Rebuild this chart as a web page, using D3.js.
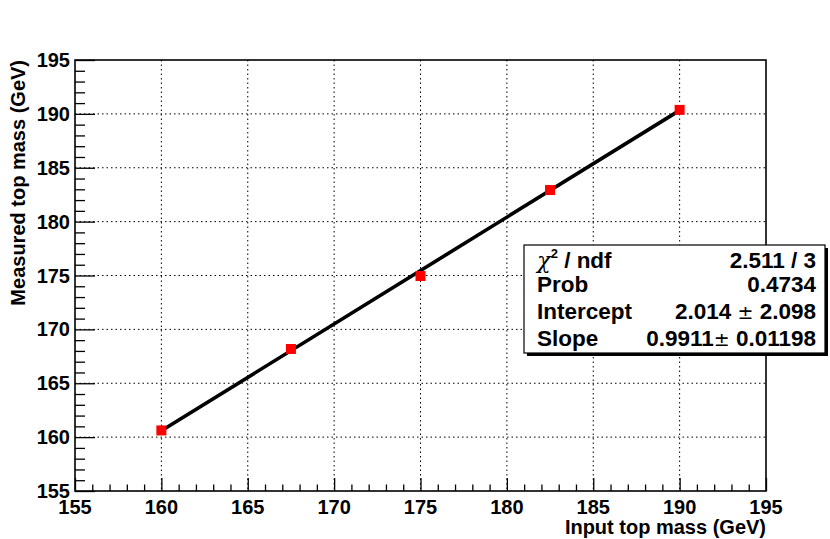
<!DOCTYPE html>
<html>
<head>
<meta charset="utf-8">
<script src="https://cdn.jsdelivr.net/npm/d3@7"></script>
<style>
  html, body { margin: 0; padding: 0; background: #fff; }
  svg { display: block; }
  text { font-family: "Liberation Sans", Arial, Helvetica, sans-serif; font-weight: bold; fill: #000; }
</style>
</head>
<body>
<svg id="chart" width="830" height="539"></svg>
<script>
// Input vs measured top mass points (GeV)
const inputMass = [160, 167.5, 175, 182.5, 190];
const measuredMass = [160.62, 168.18, 174.95, 182.93, 190.37];

// Linear fit result
const fitIntercept = 2.014;
const fitSlope = 0.9911;
const fitRange = [160, 190];

// Axis ticks
const xTicks = [155, 160, 165, 170, 175, 180, 185, 190, 195];
const yTicks = [155, 160, 165, 170, 175, 180, 185, 190, 195];

// Fit statistics box rows
const statLabels = ["Prob", "Intercept", "Slope"];
const statValues = [["0.4734"], ["2.014", "2.098"], ["0.9911", "0.01198"]];
const chi2Value = "2.511 / 3";

const svg = d3.select("#chart");
const frame = { left: 75, right: 766, top: 60, bottom: 491 };

const x = d3.scaleLinear().domain([155, 195]).range([frame.left, frame.right]);
const y = d3.scaleLinear().domain([155, 195]).range([frame.bottom, frame.top]);

// Dotted grid at major ticks
const grid = svg.append("g");
grid.selectAll("line.gx").data(xTicks.slice(1, -1)).join("line")
  .attr("x1", d => x(d)).attr("x2", d => x(d))
  .attr("y1", frame.top).attr("y2", frame.bottom)
  .attr("stroke", "#000").attr("stroke-width", 1).attr("stroke-dasharray", "1.5,3");
grid.selectAll("line.gy").data(yTicks.slice(1, -1)).join("line")
  .attr("y1", d => y(d)).attr("y2", d => y(d))
  .attr("x1", frame.left).attr("x2", frame.right)
  .attr("stroke", "#000").attr("stroke-width", 1).attr("stroke-dasharray", "1.5,3");

// Inward-pointing ticks (ROOT style): bottom axis
const xAxis = d3.axisBottom(x).tickValues(d3.range(155, 196, 1))
  .tickSize(0).tickFormat("");
const gx = svg.append("g").attr("transform", `translate(0,${frame.bottom})`).call(xAxis);
gx.select(".domain").remove();
gx.selectAll(".tick line")
  .attr("y2", d => d % 5 === 0 ? -13 : -6.5)
  .attr("stroke", "#000").attr("stroke-width", 1.3);

const yAxis = d3.axisLeft(y).tickValues(d3.range(155, 196, 1))
  .tickSize(0).tickFormat("");
const gy = svg.append("g").attr("transform", `translate(${frame.left},0)`).call(yAxis);
gy.select(".domain").remove();
gy.selectAll(".tick line")
  .attr("x2", d => d % 5 === 0 ? 20 : 10)
  .attr("stroke", "#000").attr("stroke-width", 1.3);

// Tick labels
svg.append("g").selectAll("text").data(xTicks).join("text")
  .attr("x", d => x(d)).attr("y", frame.bottom + 23)
  .attr("text-anchor", "middle").attr("font-size", 20)
  .text(d => d);
svg.append("g").selectAll("text").data(yTicks).join("text")
  .attr("x", frame.left - 5).attr("y", d => y(d) + 7)
  .attr("text-anchor", "end").attr("font-size", 20)
  .text(d => d);

// Axis titles
svg.append("text")
  .attr("x", frame.right).attr("y", 534)
  .attr("text-anchor", "end").attr("font-size", 20)
  .text("Input top mass (GeV)");
svg.append("text")
  .attr("transform", `translate(25,${frame.top}) rotate(-90)`)
  .attr("text-anchor", "end").attr("font-size", 20)
  .text("Measured top mass (GeV)");

// Fit line
svg.append("line")
  .attr("x1", x(fitRange[0])).attr("y1", y(fitIntercept + fitSlope * fitRange[0]))
  .attr("x2", x(fitRange[1])).attr("y2", y(fitIntercept + fitSlope * fitRange[1]))
  .attr("stroke", "#000").attr("stroke-width", 3.6);

// Data markers
const ms = 10;
svg.append("g").selectAll("rect").data(inputMass).join("rect")
  .attr("x", d => x(d) - ms / 2)
  .attr("y", (d, i) => y(measuredMass[i]) - ms / 2)
  .attr("width", ms).attr("height", ms)
  .attr("fill", "#ff0000");

// Frame
svg.append("rect")
  .attr("x", frame.left).attr("y", frame.top)
  .attr("width", frame.right - frame.left).attr("height", frame.bottom - frame.top)
  .attr("fill", "none").attr("stroke", "#000").attr("stroke-width", 1.6);

// Statistics box with drop shadow
const box = { x: 524, y: 245, w: 301, h: 108 };
svg.append("rect")
  .attr("x", box.x + 3).attr("y", box.y + 3).attr("width", box.w).attr("height", box.h)
  .attr("fill", "#000");
svg.append("rect")
  .attr("x", box.x).attr("y", box.y).attr("width", box.w).attr("height", box.h)
  .attr("fill", "#fff").attr("stroke", "#000").attr("stroke-width", 1.2);

const textL = 537, textR = 816;
const rowY = [268, 292, 319, 346];
const fs = 22.5;

const chiLabel = svg.append("text").attr("x", textL).attr("y", rowY[0]).attr("font-size", fs);
chiLabel.append("tspan").attr("font-family", "DejaVu Serif, serif").attr("font-style", "italic")
  .attr("font-weight", "normal").text("χ");
chiLabel.append("tspan").attr("dy", -10).attr("font-size", 13).text("2");
chiLabel.append("tspan").attr("dy", 10).text(" / ndf");
svg.append("text").attr("x", textR).attr("y", rowY[0]).attr("text-anchor", "end")
  .attr("font-size", fs).text(chi2Value);

statLabels.forEach((lab, i) => {
  svg.append("text").attr("x", textL).attr("y", rowY[i + 1]).attr("font-size", fs).text(lab);
  const v = statValues[i];
  const t = svg.append("text").attr("x", textR).attr("y", rowY[i + 1])
    .attr("text-anchor", "end").attr("font-size", fs);
  if (v.length === 1) {
    t.text(v[0]);
  } else {
    t.append("tspan").text(v[0] + (i === 1 ? " " : ""));
    t.append("tspan").attr("font-weight", "normal").attr("font-family", "DejaVu Sans, sans-serif")
      .attr("font-size", 19).text("±");
    t.append("tspan").text(" " + v[1]);
  }
});
</script>
</body>
</html>
